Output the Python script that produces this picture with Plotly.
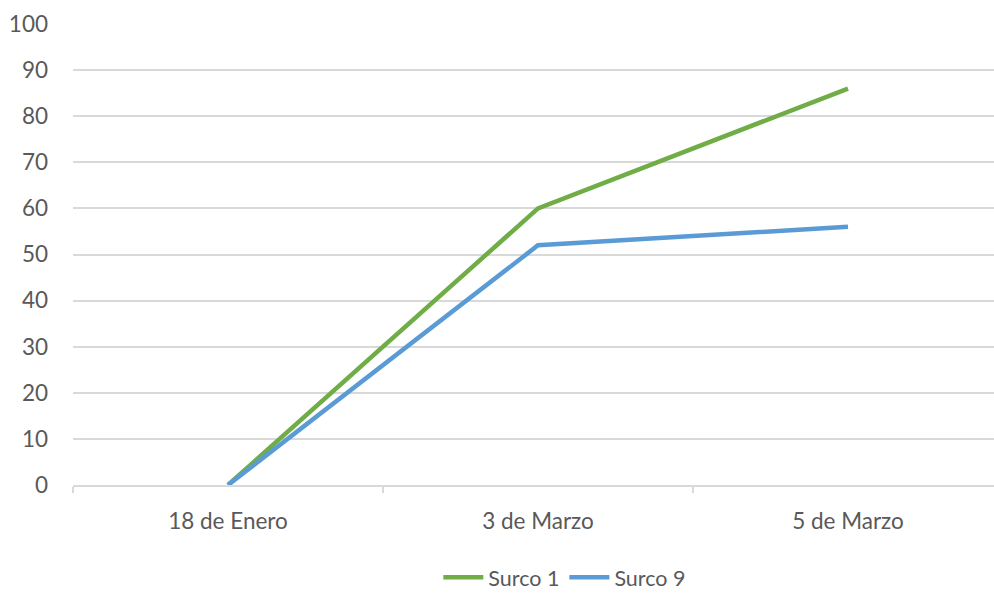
import plotly.graph_objects as go

# Fechas de muestreo y valores por surco
fechas = ["18 de Enero", "3 de Marzo", "5 de Marzo"]
surco_1 = [0, 60, 86]
surco_9 = [0, 52, 56]
y_ticks = list(range(0, 101, 10))

GREEN = "#70AD47"
BLUE = "#5B9BD5"
GRID = "#d9d9d9"
TEXT = "#595959"
FONT = "Lato"
SIZE = 22.5

fig = go.Figure()
fig.add_trace(go.Scatter(x=fechas, y=surco_1, mode="lines", name="Surco 1",
                         line=dict(color=GREEN, width=4.5)))
fig.add_trace(go.Scatter(x=fechas, y=surco_9, mode="lines", name="Surco 9",
                         line=dict(color=BLUE, width=4.5)))

fig.update_layout(
    width=994, height=594,
    margin=dict(l=73, r=0, t=24, b=109, autoexpand=False),
    paper_bgcolor="white", plot_bgcolor="white",
    font=dict(family=FONT, color=TEXT, size=SIZE),
    showlegend=True,
    legend=dict(orientation="h", x=0.534, xanchor="center", y=-0.2, yanchor="middle",
                font=dict(size=21.5, color=TEXT, family=FONT), itemwidth=40),
)
fig.update_xaxes(
    type="category", range=[-0.5, 2.471],
    tickson="boundaries", ticks="outside", ticklen=6, tickcolor=GRID, tickwidth=1.5,
    showgrid=False, showline=True, linecolor=GRID, linewidth=1.5,
    tickfont=dict(size=SIZE, color=TEXT, family=FONT), ticklabelstandoff=15,
)
fig.update_yaxes(
    range=[0, 100], tickvals=y_ticks,
    showgrid=True, gridcolor=GRID, gridwidth=1.5,
    zeroline=False, showline=False, ticks="",
    tickfont=dict(size=SIZE, color=TEXT, family=FONT), ticklabelstandoff=24,
)

fig.write_html("out.html")
